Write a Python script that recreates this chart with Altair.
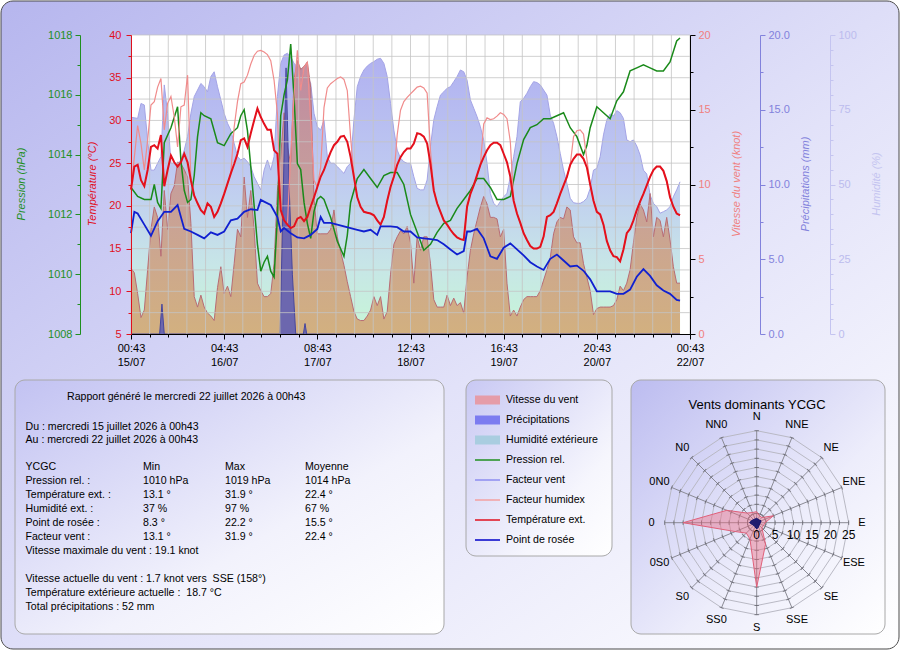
import altair as alt
import pandas as pd

# ------------------------------------------------------------------ data
temp_hours = list(range(166))
temperature = [
    21.9, 24.6, 24.8, 23.0, 22.3, 24.2, 26.9, 27.1, 26.7, 28.3,
    22.3, 24.2, 25.9, 25.1, 24.6, 25.1, 26.1, 25.1, 23.0, 21.2,
    20.3, 19.5, 19.1, 20.3, 19.9, 18.7, 19.3, 20.3, 21.4, 22.6,
    23.8, 24.9, 26.1, 27.7, 27.9, 26.9, 28.5, 30.0, 31.4, 30.4,
    29.6, 28.9, 28.9, 26.5, 26.1, 19.5, 18.3, 17.8, 17.4, 17.6,
    18.5, 18.7, 18.2, 18.7, 19.9, 21.0, 22.2, 23.4, 24.2, 25.3,
    26.3, 27.1, 27.5, 28.1, 28.2, 27.5, 25.7, 23.4, 21.0, 19.9,
    19.3, 19.2, 19.1, 18.9, 18.3, 17.8, 18.7, 20.6, 22.2, 23.4,
    24.8, 25.7, 26.3, 26.7, 26.7, 27.3, 28.5, 28.4, 28.1, 27.3,
    24.9, 21.8, 20.3, 19.3, 18.3, 17.8, 17.2, 16.7, 16.3, 16.1,
    16.0, 19.9, 21.4, 22.4, 23.6, 24.8, 25.7, 26.5, 27.1, 27.4,
    27.4, 27.1, 26.1, 25.1, 23.4, 20.6, 19.1, 18.0, 16.8, 16.0,
    15.3, 15.0, 15.0, 15.2, 16.4, 18.7, 18.9, 19.3, 20.3, 21.4,
    22.4, 23.4, 24.8, 25.5, 26.0, 26.0, 25.5, 24.5, 22.5, 20.6,
    19.3, 19.0, 17.8, 15.9, 14.8, 14.1, 14.0, 13.5, 14.9, 16.8,
    17.3, 18.3, 19.5, 20.5, 21.4, 22.4, 23.4, 24.2, 24.6, 24.6,
    24.1, 22.9, 21.0, 19.9, 19.1, 18.9,
]
humidex = [
    22.0, 25.7, 29.4, 27.3, 24.2, 27.7, 31.8, 32.2, 33.9, 34.9,
    28.9, 32.0, 32.8, 30.4, 26.9, 31.6, 31.8, 35.3, 23.0, 21.2,
    20.3, 19.5, 19.1, 20.3, 19.9, 18.7, 19.3, 20.3, 21.4, 22.6,
    23.8, 29.2, 32.2, 34.3, 34.5, 35.3, 36.6, 37.6, 38.1, 38.2,
    38.0, 37.7, 37.0, 34.7, 30.8, 19.5, 18.3, 17.8, 26.0, 33.0,
    38.2, 33.5, 36.2, 36.8, 29.9, 23.0, 22.2, 24.5, 31.5, 33.8,
    34.3, 34.6, 34.9, 35.1, 34.8, 33.5, 28.0, 23.4, 21.0, 19.9,
    19.3, 19.2, 19.1, 18.9, 18.3, 17.8, 18.7, 20.6, 22.2, 23.4,
    28.3, 31.2, 32.2, 32.7, 33.1, 33.5, 33.9, 34.0, 33.8, 33.2,
    26.5, 21.8, 20.3, 19.3, 18.3, 17.8, 17.2, 16.7, 16.3, 16.1,
    16.0, 19.9, 21.4, 22.4, 23.6, 24.8, 29.6, 30.3, 30.1, 30.2,
    30.5, 30.9, 30.7, 30.2, 27.5, 20.6, 19.1, 18.0, 16.8, 16.0,
    15.3, 15.0, 15.0, 15.2, 16.4, 18.7, 18.9, 19.3, 20.3, 21.4,
    22.4, 23.4, 24.8, 28.1, 28.8, 28.9, 28.4, 25.5, 22.5, 20.6,
    19.3, 19.0, 17.8, 15.9, 14.8, 14.1, 14.0, 13.5, 14.9, 16.8,
    17.3, 18.3, 19.5, 20.5, 21.4, 22.4, 23.4, 24.2, 24.6, 24.6,
    24.1, 22.9, 21.0, 19.9, 19.1, 18.9,
]
dew_hours = [0, 1, 2, 4, 6, 8, 10, 12, 14, 16, 18, 20, 22, 24, 26, 28, 30, 32, 34, 36,
             38, 39, 40, 42, 44, 45, 46, 48, 50, 52, 54, 56, 57, 58, 60, 62, 64, 66, 68, 70,
             72, 74, 75, 76, 78, 80, 82, 84, 86, 88, 90, 92, 94, 96, 98, 100, 101, 102, 104, 106,
             108, 110, 112, 114, 116, 118, 120, 122, 124, 126, 128, 130, 132, 134, 136, 138, 140, 142, 144, 146,
             148, 150, 152, 154, 156, 158, 160, 162, 164, 165]
dew_point = [16.8, 19.3, 19.1, 17.8, 16.5, 18.2, 19.3, 19.3, 20.1, 17.3, 17.0, 16.6, 16.2, 16.9, 16.6, 17.0, 18.3, 18.5, 19.3, 19.6,
             19.5, 20.7, 20.5, 20.1, 18.7, 17.0, 17.4, 16.8, 16.3, 16.2, 16.6, 17.3, 18.7, 18.0, 18.0, 17.8, 17.6, 17.4, 17.2, 17.0,
             17.2, 16.6, 17.6, 17.6, 17.6, 17.5, 17.0, 17.0, 16.3, 16.2, 16.1, 16.0, 15.5, 14.9, 14.3, 14.7, 17.0, 17.0, 17.3, 16.2,
             14.1, 13.8, 15.1, 15.6, 14.9, 14.2, 13.4, 12.9, 12.5, 13.8, 14.3, 13.6, 12.9, 13.0, 12.4, 11.4, 10.0, 10.0, 10.0, 9.7,
             9.7, 10.2, 11.7, 12.6, 11.8, 10.7, 10.1, 9.7, 9.0, 8.9]
pres_hours = [0, 2, 4, 6, 7, 8, 9, 10, 12, 14, 15, 16, 17, 18, 19, 20, 21, 22, 24, 26,
              28, 30, 32, 33, 34, 35, 36, 37, 38, 39, 40, 41, 42, 43, 44, 45, 46, 47, 48, 49,
              50, 51, 52, 53, 54, 55, 56, 57, 58, 60, 62, 64, 65, 66, 68, 70, 72, 74, 76, 78,
              80, 82, 84, 86, 88, 90, 92, 94, 96, 98, 100, 102, 104, 106, 108, 110, 112, 114, 116, 118,
              120, 122, 124, 126, 128, 130, 132, 134, 136, 137, 138, 140, 142, 144, 146, 148, 150, 152, 154, 156,
              158, 160, 162, 164, 165]
pressure = [1012.9, 1012.6, 1012.5, 1012.5, 1013.0, 1012.4, 1012.2, 1014.4, 1014.9, 1015.6, 1013.8, 1012.8, 1012.4, 1012.5, 1013.3, 1014.6, 1015.4, 1015.3, 1015.2, 1014.4,
            1014.3, 1014.7, 1014.9, 1015.3, 1015.5, 1014.8, 1013.6, 1012.3, 1011.0, 1010.1, 1010.4, 1010.6, 1010.1, 1009.9, 1011.9, 1015.3, 1016.0, 1016.5, 1017.7, 1015.9,
            1013.7, 1013.5, 1012.4, 1011.7, 1011.2, 1012.1, 1012.5, 1012.6, 1012.5, 1011.9, 1011.1, 1010.6, 1011.3, 1012.4, 1013.2, 1013.5, 1013.2, 1012.9, 1013.3, 1013.4,
            1013.4, 1013.0, 1012.0, 1011.4, 1010.8, 1011.0, 1011.4, 1011.7, 1011.8, 1012.2, 1012.5, 1012.8, 1013.2, 1013.2, 1012.9, 1012.5, 1012.5, 1012.6, 1013.7, 1014.5,
            1014.9, 1015.0, 1015.2, 1015.2, 1015.3, 1015.4, 1014.9, 1014.6, 1014.0, 1014.3, 1014.9, 1015.6, 1015.4, 1015.2, 1015.8, 1016.1, 1016.8, 1016.9, 1017.0, 1016.9,
            1016.8, 1016.8, 1017.1, 1017.8, 1017.9]
hum_hours = [0] + list(range(2, 166))
humidity = [72.5, 72.1, 77.1, 76.6, 64.9, 54.8, 54.8, 57.1, 59.3, 83.3, 73.8, 57.1, 57.1, 57.1, 58.2, 61.5, 66.0, 73.8,
            79.4, 81.6, 83.8, 82.7, 81.0, 86.1, 87.7, 82.7, 78.3, 73.8, 70.5, 68.2, 63.8, 59.3, 58.2, 58.8, 57.6, 56.0,
            52.6, 50.4, 48.2, 54.8, 58.2, 54.8, 59.3, 79.4, 90.5, 93.3, 93.9, 92.8, 90.5, 89.4, 88.9, 85.5, 86.1, 83.8,
            73.8, 69.3, 68.2, 71.6, 59.3, 57.1, 57.1, 56.0, 54.8, 53.7, 56.0, 57.1, 71.6, 82.7, 86.1, 88.3, 89.6, 90.5,
            91.1, 91.9, 92.2, 90.5, 86.1, 77.1, 68.2, 61.5, 58.8, 57.6, 57.1,
            57.1, 52.6, 48.7, 48.2, 48.2, 51.5, 62.7, 71.6, 76.0, 79.9, 81.0, 82.2, 82.7, 84.4, 86.1, 88.3, 87.7, 84.9,
            78.3, 75.5, 72.7, 69.3, 64.9, 57.1, 47.0, 43.7, 42.6, 44.3, 45.9, 47.0, 52.6, 59.3, 66.0, 77.7, 78.8, 80.5,
            82.7, 84.4, 84.1, 83.3, 81.6, 79.9, 73.2, 70.5, 66.0, 60.4, 54.8, 50.4, 45.4, 43.9, 43.7, 43.7, 44.3, 45.4,
            48.7, 54.8, 55.4, 59.3, 66.6, 71.6, 73.6, 72.9, 74.7, 74.0, 72.1, 64.9, 64.3, 64.9, 62.9, 59.9, 54.8, 53.5,
            46.5, 43.7, 42.6, 40.4, 40.9, 41.5, 42.6, 45.9, 48.2, 50.9]
wind_hours = list(range(166))
wind = [
    4.4, 4.1, 2.7, 1.1, 1.6, 4.3, 7.0, 8.5, 7.8, 5.2,
    9.6, 7.0, 9.4, 9.9, 11.5, 11.4, 11.0, 10.5, 7.4, 2.5,
    1.8, 2.6, 1.8, 1.4, 1.2, 0.9, 3.1, 4.5, 2.7, 3.2,
    2.5, 4.7, 7.0, 6.5, 10.5, 7.8, 9.6, 7.0, 3.4, 2.9,
    2.5, 2.5, 2.7, 4.7, 9.6, 11.9, 14.8, 12.5, 11.4, 17.0,
    18.3, 17.7, 17.9, 18.2, 16.5, 9.0, 6.7, 6.7, 6.7, 6.7,
    7.0, 8.3, 6.5, 5.5, 4.6, 3.5, 2.5, 1.5, 1.0, 0.9,
    0.9, 1.2, 1.6, 2.5, 1.9, 2.5, 1.0, 1.5, 4.0, 6.0,
    6.5, 6.9, 6.7, 7.2, 6.1, 3.4, 6.5, 5.6, 6.5, 6.5,
    4.7, 2.3, 1.8, 1.8, 1.8, 2.6, 1.9, 2.4, 1.9, 2.1,
    1.4, 3.8, 5.6, 6.7, 7.6, 8.5, 9.2, 8.7, 7.8, 7.8,
    7.7, 6.5, 7.0, 3.4, 1.2, 1.6, 1.2, 1.8, 2.3, 2.5,
    2.5, 2.5, 2.5, 2.9, 3.6, 4.3, 5.1, 6.7, 7.5, 7.8,
    7.7, 8.5, 8.3, 6.5, 6.1, 6.1, 4.7, 3.8, 2.9, 1.3,
    1.7, 1.8, 1.8, 1.8, 1.8, 1.9, 2.3, 3.2, 2.9, 3.4,
    4.3, 6.1, 7.8, 8.7, 8.3, 7.5, 9.4, 6.5, 7.8, 7.6,
    6.5, 7.8, 6.3, 4.5, 3.4, 3.4,
]
prec_hours = [0, 8.6, 9.3, 10.0, 44.8, 45.6, 46.6, 47.5, 48.5, 49.5, 51.8, 52.3, 52.8, 165]
precip = [0, 0, 2.0, 0, 0, 8.0, 17.8, 10.0, 4.0, 0, 0, 0.7, 0, 0]

xtick_label_hours = [0, 28, 56, 84, 112, 140, 168]
xtick_times = ["00:43", "04:43", "08:43", "12:43", "16:43", "20:43", "00:43"]
xtick_dates = ["15/07", "16/07", "17/07", "18/07", "19/07", "20/07", "22/07"]

rose_dirs = ["N", "NNE", "NE", "ENE", "E", "ESE", "SE", "SSE",
             "S", "SS0", "S0", "0S0", "0", "0N0", "N0", "NN0"]
rose_max = [3.0, 2.0, 2.0, 4.9, 2.3, 2.0, 2.0, 6.3, 17.5, 4.8, 4.0, 6.3, 20.0, 8.8, 3.7, 3.0]
rose_mean = [1.2, 1.0, 1.0, 1.3, 1.0, 0.9, 0.9, 1.3, 1.7, 1.2, 1.1, 1.3, 1.9, 1.5, 1.2, 1.1]
rose_rings = [2.5, 5, 7.5, 10, 12.5, 15, 17.5, 20, 22.5, 25]
rose_scale_labels = [0, 5, 10, 15, 20, 25]
rose_title = "Vents dominants YCGC"

legend_labels = ["Vitesse du vent", "Précipitations", "Humidité extérieure", "Pression rel.",
                 "Facteur vent", "Facteur humidex", "Température ext.", "Point de rosée"]
legend_kinds = ["box", "box", "box", "line", "line", "line", "line", "line"]
legend_colors = ["#e59ca8", "#7c7cf0", "#a9cde0", "#1f8f1f", "#8c8cf0", "#f3a0a0", "#e0101e", "#0000c8"]

report_title = "Rapport généré le mercredi 22 juillet 2026 à 00h43"
report_period = ["Du : mercredi 15 juillet 2026 à 00h43", "Au : mercredi 22 juillet 2026 à 00h43"]
stat_names = ["YCGC", "Pression rel. :", "Température ext. :", "Humidité ext. :", "Point de rosée :", "Facteur vent :"]
stat_min = ["Min", "1010 hPa", "13.1 °", "37 %", "8.3 °", "13.1 °"]
stat_max = ["Max", "1019 hPa", "31.9 °", "97 %", "22.2 °", "31.9 °"]
stat_mean = ["Moyenne", "1014 hPa", "22.4 °", "67 %", "15.5 °", "22.4 °"]
report_max_wind = "Vitesse maximale du vent : 19.1 knot"
report_current = ["Vitesse actuelle du vent : 1.7 knot vers \u00a0SSE (158°)",
                  "Température extérieure actuelle : \u00a018.7 °C",
                  "Total précipitations : 52 mm"]

axis_titles = ["Pression (hPa)", "Température (°C)", "Vitesse du vent (knot)", "Précipitations (mm)", "Humidité (%)"]

# ------------------------------------------------------------------ layout / style
FONT = "Arial"
OX, OY = 131, 35          # page position of the plot origin
W, H = 559, 299           # plot area

GREEN = "#1f8f1f"
RED = "#e0101e"
PINK = "#f08080"
PREC_C = "#8282dc"
HUM_C = "#c4c4f0"


def px(x):
    return x - OX


def py(y):
    return y - OY


def series(hours, values):
    assert len(hours) == len(values), (len(hours), len(values))
    return pd.DataFrame({"h": hours, "v": values})


one = pd.DataFrame({"a": [0]})


def grad(stops, x1=0, y1=0, x2=1, y2=1):
    return alt.LinearGradient(
        gradient="linear",
        stops=[alt.GradientStop(color=c, offset=o) for o, c in stops],
        x1=x1, y1=y1, x2=x2, y2=y2,
    )


def rect(x0, y0, x1, y1, fill, stroke=None, radius=0, sw=1):
    kw = dict(fill=fill, cornerRadius=radius)
    if stroke:
        kw.update(stroke=stroke, strokeWidth=sw)
    return alt.Chart(one).mark_rect(**kw).encode(
        x=alt.value(px(x0)), x2=alt.value(px(x1)), y=alt.value(py(y0)), y2=alt.value(py(y1)))


# backgrounds
frame = rect(1, 1, 899, 649, grad([(0, "#b6b6ee"), (0.55, "#e2e2f9"), (1, "#ffffff")]), "#4a4a4a", 12, 1)
panel_text = rect(15, 380, 444, 634, grad([(0, "#c2c2f2"), (0.6, "#f2f2fc"), (1, "#ffffff")]), "#a8a8a8", 10)
panel_leg = rect(466, 380, 612, 556, grad([(0, "#c8c8f3"), (0.7, "#f6f6fd"), (1, "#ffffff")]), "#a8a8a8", 10)
panel_rose = rect(631, 380, 885, 634, grad([(0, "#bcbcf0"), (0.6, "#ededfb"), (1, "#ffffff")]), "#a8a8a8", 10)
plot_bg = alt.Chart(one).mark_rect(fill="white").encode(
    x=alt.value(0), x2=alt.value(W), y=alt.value(0), y2=alt.value(H))

# ------------------------------------------------------------------ main chart
xtick_values = [round(5.6 * k, 3) for k in range(31)]
x_label_expr = " : ".join(
    f"round(datum.value) == {h} ? ['{t}', '{d}']"
    for h, t, d in zip(xtick_label_hours, xtick_times, xtick_dates)) + " : ''"
x_axis = alt.Axis(values=xtick_values, labelExpr=x_label_expr, grid=False, title=None, zindex=1,
                  domainColor="black", tickColor="black",
                  tickSize={"condition": {"test": "round(datum.value) % 28 == 0", "value": 5}, "value": 3},
                  labelColor="black", labelFont=FONT, labelFontSize=11, labelPadding=3,
                  labelLineHeight=14, labelOverlap=False, labelFlush=False)
X = alt.X("h:Q", scale=alt.Scale(domain=[0, 168], nice=False, zero=False), axis=x_axis)


def yaxis(values, test, orient, offset, line_c, label_c, fmt=None, pad=3):
    kw = dict(values=values, orient=orient, offset=offset, grid=False, title=None, zindex=1,
              domainColor=line_c, tickColor=line_c, labelColor=label_c,
              labelFont=FONT, labelFontSize=11, labelPadding=pad,
              labelExpr=f"({test}) ? datum.label : ''",
              tickSize={"condition": {"test": test, "value": 5}, "value": 3},
              labelOverlap=False, labelFlush=False)
    if fmt:
        kw["format"] = fmt
    return alt.Axis(**kw)


hum_axis = yaxis([5 * i for i in range(21)], "datum.value % 25 == 0", "right", 140, HUM_C, "#bcbcee")
wind_axis = yaxis([2.5 * i for i in range(9)], "datum.value % 5 == 0", "right", 0, "black", PINK)
prec_axis = yaxis([2.5 * i for i in range(9)], "datum.value % 5 == 0", "right", 70, PREC_C, PREC_C, ".1f")
pres_axis = yaxis([1008 + i for i in range(11)], "datum.value % 2 == 0", "left", 51, GREEN, GREEN, "d")
temp_axis = yaxis([5 + 2.5 * i for i in range(15)], "datum.value % 5 == 0", "left", 0, RED, RED, None, 5)

hum_c = alt.Chart(series(hum_hours, humidity)).mark_area(
    color=grad([(0, "#acacf0"), (0.45, "#bcc8f0"), (0.75, "#c4e4e6"), (1, "#c4f6d4")], 0, 0, 0, 1),
    line={"color": "#a4a4e6", "strokeWidth": 1}, opacity=0.95,
).encode(x=X, y=alt.Y("v:Q", scale=alt.Scale(domain=[0, 100], nice=False), axis=hum_axis))

wind_c = alt.Chart(series(wind_hours, wind)).mark_area(
    color=grad([(0, "#c0869a"), (0.45, "#c79a94"), (1, "#d3aa78")], 0, 0, 0, 1),
    line={"color": "#b86c74", "strokeWidth": 1}, opacity=0.92,
).encode(x=X, y=alt.Y("v:Q", scale=alt.Scale(domain=[0, 20], nice=False), axis=wind_axis))

prec_c = alt.Chart(series(prec_hours, precip)).mark_area(
    color="#5a5ab6", opacity=0.85, line={"color": "#46469e", "strokeWidth": 1},
).encode(x=X, y=alt.Y("v:Q", scale=alt.Scale(domain=[0, 20], nice=False), axis=prec_axis))

vgrid = alt.Chart(pd.DataFrame({"h": xtick_values})).mark_rule(
    color="#c4c4c4", strokeWidth=1, opacity=0.8).encode(x=X)
hgrid = alt.Chart(pd.DataFrame({"g": [5 + 2.5 * i for i in range(1, 15)]})).mark_rule(
    color="#c4c4c4", strokeWidth=1, opacity=0.8).encode(
    y=alt.Y("g:Q", scale=alt.Scale(domain=[5, 40], nice=False, zero=False), axis=None))

pres_c = alt.Chart(series(pres_hours, pressure)).mark_line(color="#1a8a1a", strokeWidth=1.5).encode(
    x=X, y=alt.Y("v:Q", scale=alt.Scale(domain=[1008, 1018], nice=False, zero=False), axis=pres_axis))

TY = alt.Y("v:Q", scale=alt.Scale(domain=[5, 40], nice=False, zero=False), axis=temp_axis)
hx_c = alt.Chart(series(temp_hours, humidex)).mark_line(color="#f08c8c", strokeWidth=1.2).encode(x=X, y=TY)
t_c = alt.Chart(series(temp_hours, temperature)).mark_line(color="#e4101c", strokeWidth=2).encode(x=X, y=TY)
d_c = alt.Chart(series(dew_hours, dew_point)).mark_line(color="#1020d0", strokeWidth=1.8).encode(x=X, y=TY)
temp_group = alt.layer(hx_c, t_c, d_c)

main = alt.layer(hum_c, wind_c, prec_c, vgrid, hgrid, pres_c, temp_group).resolve_scale(y="independent")

# axis titles (rotated)
title_df = pd.DataFrame({
    "text": axis_titles,
    "x": [px(22), px(93), px(737), px(806), px(877)],
    "y": [py(184)] * 5,
    "c": [GREEN, RED, PINK, PREC_C, HUM_C],
})
titles = alt.Chart(title_df).mark_text(angle=270, fontStyle="italic", fontSize=11, font=FONT,
                                       align="center", baseline="middle").encode(
    x=alt.X("x:Q", scale=None, axis=None), y=alt.Y("y:Q", scale=None, axis=None),
    text="text:N", color=alt.Color("c:N", scale=None))

# ------------------------------------------------------------------ report panel
RFS = 10.6
rep_rows = [{"text": report_title, "x": px(67), "y": py(397)}]
for i, t in enumerate(report_period):
    rep_rows.append({"text": t, "x": px(25.5), "y": py(426.5 + 13.5 * i)})
col_x = [25.5, 143, 225, 305]
for i in range(len(stat_names)):
    for cx, col in zip(col_x, [stat_names, stat_min, stat_max, stat_mean]):
        rep_rows.append({"text": col[i], "x": px(cx), "y": py(467 + 14 * i)})
rep_rows.append({"text": report_max_wind, "x": px(25.5), "y": py(551)})
for i, t in enumerate(report_current):
    rep_rows.append({"text": t, "x": px(25.5), "y": py(578.5 + 14 * i)})
report = alt.Chart(pd.DataFrame(rep_rows)).mark_text(
    align="left", baseline="middle", fontSize=RFS, font=FONT, color="black").encode(
    x=alt.X("x:Q", scale=None, axis=None), y=alt.Y("y:Q", scale=None, axis=None), text="text:N")

# ------------------------------------------------------------------ legend panel
leg = pd.DataFrame({"label": legend_labels, "kind": legend_kinds, "c": legend_colors})
leg["y"] = [py(400 + 20 * i) for i in range(len(leg))]
leg["y0"] = leg["y"] - 4.5
leg["y1"] = leg["y"] + 4.5
leg["x0"] = px(475)
leg["x1"] = px(500)
leg["xt"] = px(506)
LX = lambda f: alt.X(f, scale=None, axis=None)
LY = lambda f: alt.Y(f, scale=None, axis=None)
leg_box = alt.Chart(leg).transform_filter("datum.kind == 'box'").mark_rect().encode(
    x=LX("x0:Q"), x2="x1:Q", y=LY("y0:Q"), y2="y1:Q", color=alt.Color("c:N", scale=None))
leg_line = alt.Chart(leg).transform_filter("datum.kind == 'line'").mark_rule(strokeWidth=1.5).encode(
    x=LX("x0:Q"), x2="x1:Q", y=LY("y:Q"), color=alt.Color("c:N", scale=None))
leg_text = alt.Chart(leg).mark_text(align="left", baseline="middle", fontSize=RFS, font=FONT, color="black").encode(
    x=LX("xt:Q"), y=LY("y:Q"), text="label:N")

# ------------------------------------------------------------------ wind rose
CX, CY, R = px(756.7), py(522.7), 92.0
RS_X = alt.Scale(domain=[-25, 25], range=[CX - R, CX + R], nice=False, zero=False)
RS_Y = alt.Scale(domain=[-25, 25], range=[CY + R, CY - R], nice=False, zero=False)
RX = lambda f: alt.X(f, scale=RS_X, axis=None)
RY = lambda f: alt.Y(f, scale=RS_Y, axis=None)

rose_df = pd.DataFrame({"dir": rose_dirs, "vmax": rose_max, "vmean": rose_mean, "idx": list(range(16))})
ring_df = pd.DataFrame([{"ring": r, "idx": i} for r in rose_rings for i in range(16)])

rings = alt.Chart(ring_df).transform_calculate(
    rx="datum.ring * sin(datum.idx * PI / 8)", ry="datum.ring * cos(datum.idx * PI / 8)"
).mark_line(interpolate="linear-closed", color="#b9b9c4", strokeWidth=1).encode(
    x=RX("rx:Q"), y=RY("ry:Q"), detail="ring:N", order="idx:Q")
spokes = alt.Chart(rose_df).transform_calculate(
    x0="0", y0="0", x1="25 * sin(datum.idx * PI / 8)", y1="25 * cos(datum.idx * PI / 8)"
).mark_rule(color="#8a8a94", strokeWidth=1).encode(
    x=RX("x0:Q"), y=RY("y0:Q"), x2="x1:Q", y2="y1:Q")
ticks = alt.Chart(ring_df).transform_calculate(
    rx="datum.ring * sin(datum.idx * PI / 8)", ry="datum.ring * cos(datum.idx * PI / 8)",
    ang="datum.idx * 22.5"
).mark_point(shape="stroke", size=20, color="#5a5a64", strokeWidth=1, filled=False).encode(
    x=RX("rx:Q"), y=RY("ry:Q"), angle=alt.Angle("ang:Q", scale=None))
poly_max = alt.Chart(rose_df).transform_calculate(
    rx="datum.vmax * sin(datum.idx * PI / 8)", ry="datum.vmax * cos(datum.idx * PI / 8)"
).mark_line(interpolate="linear-closed", fill="#ec6f84", fillOpacity=0.45, stroke="#e0607a",
            strokeWidth=1).encode(x=RX("rx:Q"), y=RY("ry:Q"), order="idx:Q")
poly_mean = alt.Chart(rose_df).transform_calculate(
    rx="datum.vmean * sin(datum.idx * PI / 8)", ry="datum.vmean * cos(datum.idx * PI / 8)"
).mark_line(interpolate="linear-closed", fill="#10106a", fillOpacity=0.9, stroke="#10106a",
            strokeWidth=1).encode(x=RX("rx:Q"), y=RY("ry:Q"), order="idx:Q")
dir_labels = alt.Chart(rose_df).transform_calculate(
    lx="28.6 * sin(datum.idx * PI / 8)", ly="28.6 * cos(datum.idx * PI / 8)"
).mark_text(fontSize=11, font=FONT, color="black", align="center", baseline="middle").encode(
    x=RX("lx:Q"), y=RY("ly:Q"), text="dir:N")
scale_labels = alt.Chart(pd.DataFrame({"r": rose_scale_labels})).transform_calculate(
    z="0").mark_text(fontSize=12, font=FONT, color="black", align="center", baseline="middle", dy=12).encode(
    x=RX("r:Q"), y=RY("z:Q"), text="r:Q")
rose = alt.layer(rings, spokes, ticks, poly_max, poly_mean, dir_labels, scale_labels)

rose_t = alt.Chart(one).mark_text(text=rose_title, fontSize=13, font=FONT, color="black",
                                  align="center", baseline="middle").encode(
    x=alt.value(px(757)), y=alt.value(py(405)))

# ------------------------------------------------------------------ assemble
chart = alt.layer(
    frame, panel_text, panel_leg, panel_rose, plot_bg,
    main, titles, report, leg_box, leg_line, leg_text, rose, rose_t,
).resolve_scale(x="independent", y="independent").properties(
    width=W, height=H,
    autosize=alt.AutoSizeParams(type="none"),
    padding={"left": OX, "top": OY, "right": 900 - OX - W, "bottom": 650 - OY - H},
).configure_view(stroke=None).configure(background="white", font=FONT)

chart.save("out.html", embed_options={"renderer": "svg", "actions": False})
